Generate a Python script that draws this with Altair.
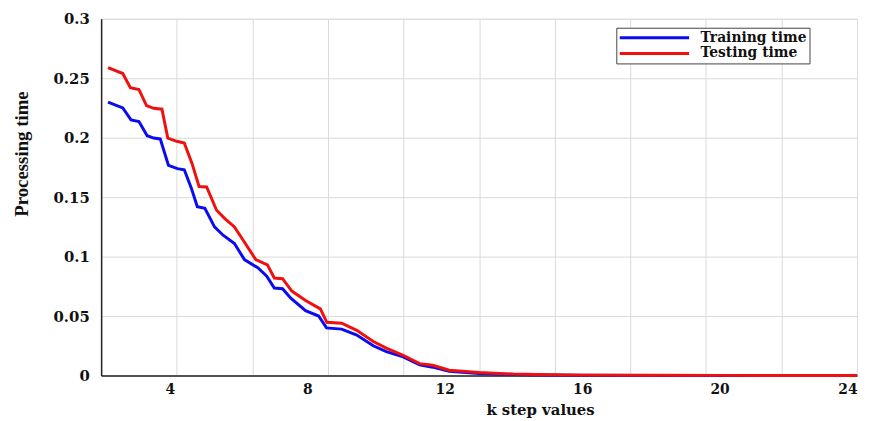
import altair as alt
import pandas as pd

# ---- data ----
k_train = [2.2, 2.63, 2.87, 3.10, 3.34, 3.53, 3.72, 3.96, 4.22, 4.42, 4.62, 4.80, 5.02, 5.30, 5.55,
           5.88, 6.17, 6.56, 6.82, 7.04, 7.28, 7.52, 7.95, 8.33, 8.56, 9.0, 9.44, 9.92, 10.30, 10.79,
           11.27, 11.65, 12.13, 13.0, 14.0, 15.0, 16.0, 18.0, 20.0, 22.0, 24.0]
t_train = [0.230, 0.225, 0.215, 0.2136, 0.2017, 0.1997, 0.199, 0.1767, 0.174, 0.173, 0.158, 0.142,
           0.1406, 0.125, 0.118, 0.111, 0.0975, 0.0906, 0.0836, 0.0736, 0.073, 0.065, 0.0545, 0.050,
           0.040, 0.039, 0.034, 0.025, 0.020, 0.0156, 0.009, 0.007, 0.0036, 0.0017, 0.0008, 0.0004,
           0.0002, 0.0001, 0.00005, 0.00002, 0.00001]

k_test = [2.2, 2.63, 2.85, 3.10, 3.32, 3.53, 3.77, 3.94, 4.20, 4.42, 4.65, 4.85, 5.07, 5.36, 5.60,
          5.88, 6.22, 6.50, 6.84, 7.04, 7.28, 7.55, 7.95, 8.38, 8.57, 9.0, 9.44, 9.92, 10.30, 10.79,
          11.27, 11.65, 12.13, 13.0, 14.0, 15.0, 16.0, 18.0, 20.0, 22.0, 24.0]
t_test = [0.259, 0.254, 0.242, 0.2406, 0.227, 0.2247, 0.224, 0.1997, 0.197, 0.1956, 0.178, 0.159,
          0.1586, 0.139, 0.132, 0.125, 0.110, 0.0975, 0.093, 0.082, 0.0814, 0.071, 0.063, 0.056,
          0.0447, 0.044, 0.038, 0.0286, 0.023, 0.017, 0.010, 0.0086, 0.0044, 0.0025, 0.0012, 0.0006,
          0.0003, 0.0002, 0.0001, 0.00005, 0.00002]

series_names = ["Training time", "Testing time"]
series_colors = ["#0b0bf0", "#f0100f"]

grid_ticks = [4.2, 6.4, 8.6, 10.8, 13.0, 15.2, 17.4, 19.6, 21.8]
label_ticks = [4, 8, 12, 16, 20, 24]
y_ticks = [0, 0.05, 0.1, 0.15, 0.2, 0.25, 0.3]

df = pd.concat([
    pd.DataFrame({"k": k_train, "time": t_train, "series": series_names[0]}),
    pd.DataFrame({"k": k_test, "time": t_test, "series": series_names[1]}),
], ignore_index=True)

LABEL_FONT = "DejaVu Serif"

xscale = alt.Scale(domain=[2, 24], nice=False, zero=False)
yscale = alt.Scale(domain=[0, 0.3], nice=False, zero=True)

yaxis = alt.Axis(
    values=y_ticks, format="~g", grid=True, gridColor="#dadada", gridWidth=1,
    ticks=False, tickSize=0, labelPadding=12,
    labelFont=LABEL_FONT, labelFontWeight="bold", labelFontSize=15, labelColor="#111",
    domainColor="#222", domainWidth=1.5,
    title="Processing time", titleFont="Liberation Serif", titleFontSize=19,
    titleFontWeight="bold", titleColor="#111", titleAngle=270,
    titleX=-80, titleY=136, titleAlign="center", titleBaseline="middle",
)

grid_axis = alt.Axis(
    orient="bottom", values=grid_ticks, grid=True, gridColor="#dadada", gridWidth=1,
    labels=False, ticks=False, tickSize=0, title=None,
    domainColor="#222", domainWidth=1.5,
)

label_axis = alt.Axis(
    orient="bottom", values=label_ticks, grid=False, ticks=False, tickSize=0,
    labels=True, labelPadding=7, labelFont=LABEL_FONT, labelFontWeight="bold",
    labelFontSize=14, labelColor="#111", labelOverlap=False,
    domain=False,
    title="k step values", titleFont=LABEL_FONT, titleFontWeight="bold",
    titleFontSize=15, titleColor="#111", titleX=443, titleY=34,
    titleAlign="center", titleBaseline="middle",
)

color = alt.Color(
    "series:N",
    scale=alt.Scale(domain=series_names, range=series_colors),
    legend=alt.Legend(
        title=None, orient="none", legendX=520, legendY=9,
        symbolType="stroke", symbolSize=4900, symbolStrokeWidth=3,
        clipHeight=16, rowPadding=0, padding=2, labelOffset=10,
        labelFont=LABEL_FONT, labelFontWeight="bold", labelFontSize=14,
        labelColor="#111", strokeColor="#444", fillColor="white", cornerRadius=0,
    ),
)

base = alt.Chart(df)

train_line = base.transform_filter(alt.datum.series == series_names[0]).mark_line(
    strokeWidth=3
).encode(
    x=alt.X("k:Q", scale=xscale, axis=grid_axis),
    y=alt.Y("time:Q", scale=yscale, axis=yaxis),
    color=color,
)

test_line = base.transform_filter(alt.datum.series == series_names[1]).mark_line(
    strokeWidth=3
).encode(
    x=alt.X("k:Q", scale=xscale, axis=label_axis),
    y=alt.Y("time:Q", scale=yscale, axis=yaxis),
    color=color,
)

chart = alt.layer(train_line, test_line).resolve_axis(x="independent").properties(
    width=763, height=360, autosize="none",
    padding={"left": 94, "top": 9, "right": 7, "bottom": 44},
).configure_view(stroke="#333", strokeWidth=1).configure(background="white")

chart.save("out.html", embed_options={"renderer": "svg", "actions": False})
